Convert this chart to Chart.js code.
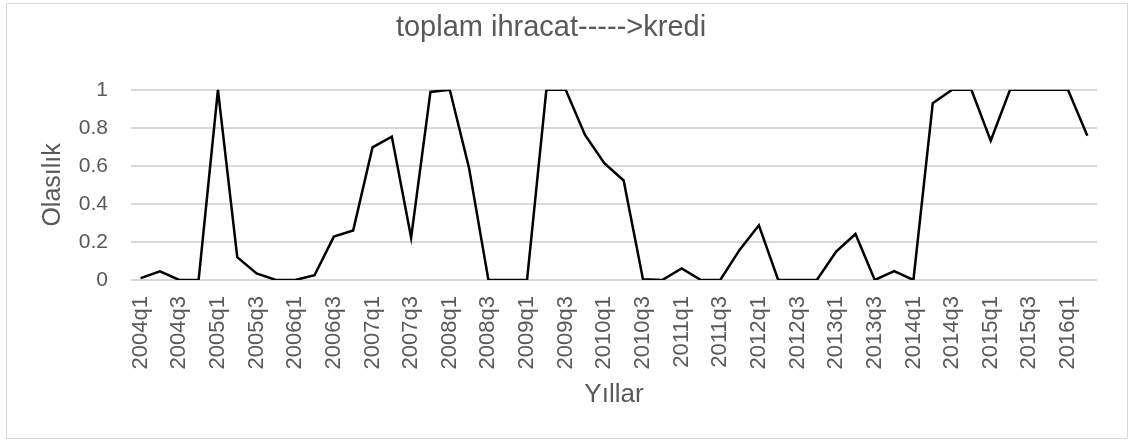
<!DOCTYPE html>
<html>
<head>
<meta charset="utf-8">
<script src="https://cdn.jsdelivr.net/npm/chart.js@4/dist/chart.umd.min.js"></script>
<style>
  html, body { margin: 0; padding: 0; background: #fff; }
  #wrap { position: relative; width: 1130px; height: 441px; }
</style>
</head>
<body>
<div id="wrap"><canvas id="chart"></canvas></div>
<script>
// quarters 2004q1 .. 2016q2
const quarters = [];
for (let y = 2004; y <= 2016; y++) {
  for (let q = 1; q <= 4; q++) {
    if (y === 2016 && q > 2) break;
    quarters.push(y + 'q' + q);
  }
}

// probability values
const probability = [
  0.01, 0.045, 0, 0, 1, 0.12, 0.035, 0, 0, 0.025,
  0.228, 0.26, 0.697, 0.754, 0.223, 0.989, 1, 0.588, 0, 0,
  0, 1, 1, 0.763, 0.614, 0.523, 0.004, 0, 0.061, 0,
  0, 0.158, 0.288, 0, 0, 0, 0.149, 0.242, 0, 0.047,
  0, 0.93, 1, 1, 0.732, 1, 1, 1, 1, 0.758
];

const yTicks = [0, 0.2, 0.4, 0.6, 0.8, 1];

const textColor = '#595959';
const gridColor = '#d9d9d9';
const fontFamily = '"Liberation Sans", Arial, sans-serif';

// light frame round the whole chart
const framePlugin = {
  id: 'frame',
  beforeDraw(chart) {
    const ctx = chart.ctx;
    ctx.save();
    ctx.strokeStyle = gridColor;
    ctx.lineWidth = 1;
    ctx.strokeRect(6.5, 3.5, 1121, 435);
    ctx.restore();
  }
};

new Chart(document.getElementById('chart'), {
  type: 'line',
  data: {
    labels: quarters,
    datasets: [{
      data: probability,
      borderColor: '#000000',
      borderWidth: 2.5,
      pointRadius: 0,
      tension: 0,
      fill: false
    }]
  },
  options: {
    responsive: true,
    maintainAspectRatio: false,
    animation: false,
    layout: { padding: { left: 0, right: 28, top: 0, bottom: 0 } },
    plugins: {
      legend: { display: false },
      tooltip: { enabled: false },
      title: {
        display: true,
        text: 'toplam ihracat----->kredi',
        color: textColor,
        font: { family: fontFamily, size: 29, weight: 'normal' },
        padding: { top: 11, bottom: 44 }
      }
    },
    scales: {
      x: {
        offset: true,
        grid: { display: false, drawTicks: false },
        border: { display: false },
        ticks: {
          color: textColor,
          font: { family: fontFamily, size: 22 },
          autoSkip: false,
          minRotation: 90,
          maxRotation: 90,
          padding: 16,
          callback: (v, i) => (i % 2 === 0 ? quarters[i] : '')
        },
        title: {
          display: true,
          text: 'Yıllar',
          color: textColor,
          font: { family: fontFamily, size: 26 },
          padding: { top: 0, bottom: 31 }
        },
        afterFit: s => { s.height = 161; }
      },
      y: {
        min: 0,
        max: 1,
        grid: { color: gridColor, lineWidth: 2, drawTicks: false },
        border: { display: false },
        afterBuildTicks: s => { s.ticks = yTicks.map(v => ({ value: v })); },
        ticks: {
          color: textColor,
          font: { family: fontFamily, size: 21 },
          padding: 23,
          callback: v => String(+v.toFixed(1))
        },
        title: {
          display: true,
          text: 'Olasılık',
          color: textColor,
          font: { family: fontFamily, size: 25 },
          padding: { top: 38, bottom: 0 }
        },
        afterFit: s => { s.width = 131; }
      }
    }
  },
  plugins: [framePlugin]
});
</script>
</body>
</html>
